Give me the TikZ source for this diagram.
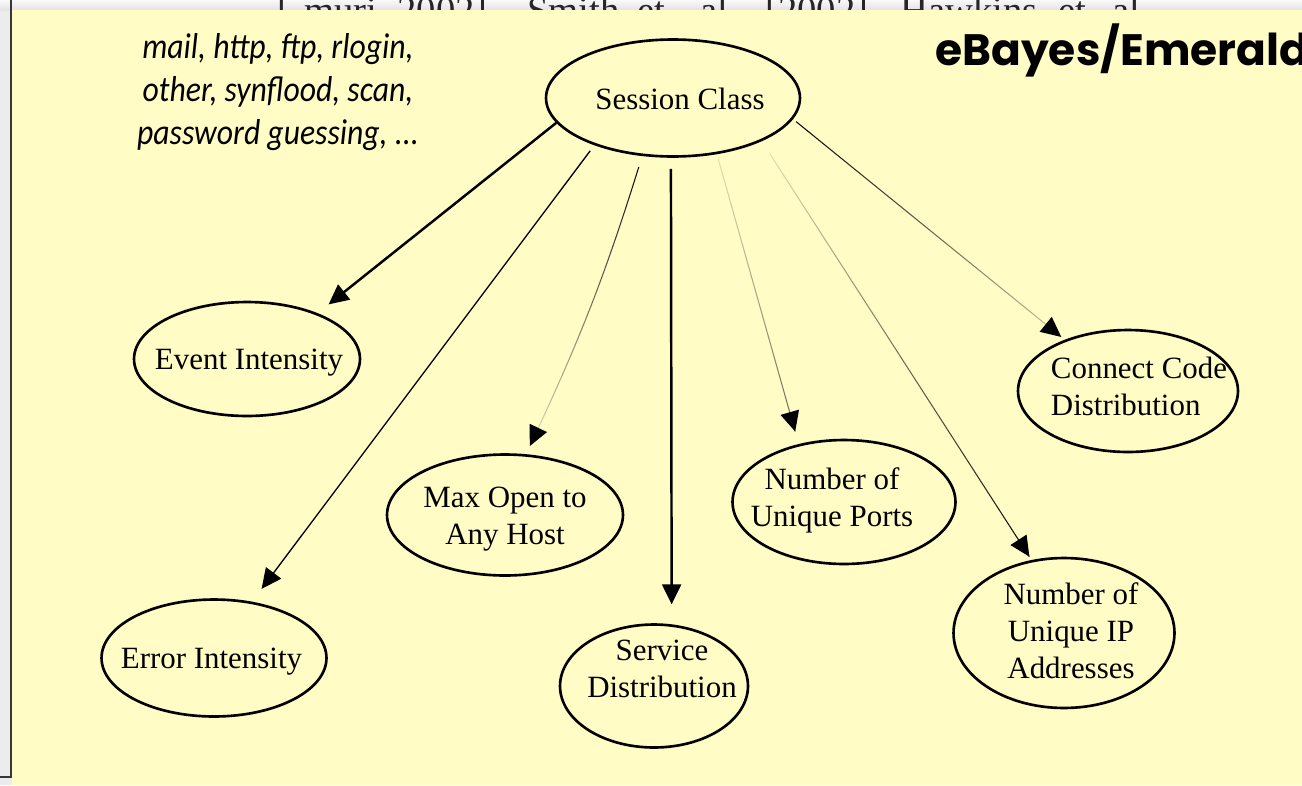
\documentclass[tikz,border=0pt]{standalone}
\usepackage{fontspec}
\setmainfont{Liberation Serif}
\newfontfamily\gill{Carlito}
\newfontfamily\gillbold{Poppins}
\usepackage{tikz}
\usetikzlibrary{positioning, arrows.meta, shapes.geometric, calc, fadings}
\definecolor{slideyellow}{RGB}{255,252,197}
\definecolor{framegray}{RGB}{236,236,236}
\definecolor{edgegray}{RGB}{55,55,55}

\tikzfading[name=fadedown, top color=transparent!0, bottom color=transparent!92]
\tikzfading[name=fadelate, top color=transparent!0, middle color=transparent!15,
            bottom color=transparent!80]
\tikzfading[name=fadeup, top color=transparent!90, bottom color=transparent!40]
\tikzfading[name=fadeearly, top color=transparent!92, middle color=transparent!20,
            bottom color=transparent!0]

\tikzset{
  ellip/.style={ellipse, draw, line width=1.5pt, inner sep=0pt},
  nodetxt/.style={font=\fontsize{17.6}{21}\selectfont, align=center, yshift=-0.08cm},
  arr/.style={-{Triangle[length=0.4cm, width=0.38cm]}},
  tiponly/.style={arr, dash pattern=on 0pt off 10000pt},
  thinline/.style={line width=0.6pt},
}

\begin{document}
\begin{tikzpicture}[x=0.02cm, y=-0.02cm]
  \useasboundingbox (0,0) rectangle (1302,785);

  % window behind the slide
  \fill[framegray] (0,0) rectangle (1302,785);
  \shade[top color=gray!5, bottom color=gray!22] (0,0) rectangle (1302,10);
  \begin{scope}
    \clip (12,0) rectangle (1302,10);
    \foreach \w/\x [count=\i] in {{[}/277, muri/304, {2002]}/397, Smith/527, et/637,
                                  al./700, {[2002]}/765, Hawkins/900, et/1058, al./1112}
      \node[anchor=base west, inner sep=0pt, text=black!85,
            font=\fontsize{22}{26}\selectfont] (cite\i) at (\x,23) {\w};
  \end{scope}
  \fill[slideyellow] (12,10) rectangle (1302,785);
  \draw[edgegray, line width=0.04cm] (11,0) -- (11,777) -- (0,777);

  % labels
  \node[font=\gill\itshape\fontsize{20.5}{24.4}\selectfont, inner sep=0pt]
        (types) at (278,93) {\scalebox{0.88}[1]{\begin{tabular}{@{}c@{}}
          mail, http, ftp, rlogin,\\other, synflood, scan,\\password guessing, ...\end{tabular}}};
  \node[font=\gillbold\bfseries\fontsize{25}{30}\selectfont, anchor=base west, inner sep=0pt]
        (title) at (935,65) {eBayes/Emerald};

  % nodes
  \node[ellip, minimum width=5.08cm, minimum height=2.34cm,
        label={[nodetxt, xshift=0.14cm, yshift=0.06cm]center:Session Class}] (sess) at (673,98) {};
  \node[ellip, minimum width=4.52cm, minimum height=2.28cm,
        label={[nodetxt, xshift=0.04cm]center:Event Intensity}] (evt) at (247,359) {};
  \node[ellip, minimum width=4.5cm, minimum height=2.34cm,
        label={[nodetxt, xshift=-0.05cm]center:Error Intensity}] (err) at (214,658) {};
  \node[ellip, minimum width=4.72cm, minimum height=2.42cm,
        label={[nodetxt]center:Max Open to\\Any Host}] (maxo) at (505,515) {};
  \node[ellip, minimum width=3.76cm, minimum height=2.46cm,
        label={[nodetxt, xshift=0.16cm, yshift=0.42cm]center:Service\\Distribution}] (svc) at (654,686) {};
  \node[ellip, minimum width=4.46cm, minimum height=2.48cm,
        label={[nodetxt, xshift=-0.24cm, yshift=0.12cm]center:Number of\\Unique Ports}] (ports) at (844,502) {};
  \node[ellip, minimum width=4.4cm, minimum height=2.44cm,
        label={[nodetxt, align=left, xshift=0.22cm, yshift=0.18cm]center:Connect Code\\Distribution}] (conn) at (1128,391) {};
  \node[ellip, minimum width=4.42cm, minimum height=3cm,
        label={[nodetxt, xshift=0.14cm, yshift=0.12cm]center:Number of\\Unique IP\\Addresses}] (ipad) at (1064,633) {};

  % connectors
  \draw[line width=1.4pt, arr, shorten >=0.28cm] (sess.192.7) -- (evt.33.7);
  \draw[line width=0.75pt, arr, shorten <=0.14cm, shorten >=0.32cm] (sess.211.1) -- (err.56.8);
  \draw[thinline, path fading=fadedown, shorten <=0.23cm, shorten >=0.18cm]
        (sess.242.1) to[bend left=4] (maxo.71.7);
  \draw[thinline, tiponly, shorten <=0.23cm, shorten >=0.18cm]
        (sess.242.1) to[bend left=4] (maxo.71.7);
  \draw[line width=1.4pt, arr, shorten <=0.22cm, shorten >=0.4cm] (sess.268) -- (svc.74.4);
  \draw[thinline, path fading=fadeup, shorten <=0.1cm, shorten >=0.26cm] (sess.308.7) -- (ports.128.8);
  \draw[thinline, tiponly, shorten <=0.1cm, shorten >=0.26cm] (sess.308.7) -- (ports.128.8);
  \draw[thinline, path fading=fadeearly, shorten <=0.3cm, shorten >=0.08cm] (sess.334) -- (ipad.114.1);
  \draw[thinline, tiponly, shorten <=0.3cm, shorten >=0.08cm] (sess.334) -- (ipad.114.1);
  \draw[thinline, path fading=fadelate, shorten <=0.08cm, shorten >=0.09cm] (sess.350.8) -- (conn.141.3);
  \draw[thinline, tiponly, shorten <=0.08cm, shorten >=0.09cm] (sess.350.8) -- (conn.141.3);
\end{tikzpicture}
\end{document}
